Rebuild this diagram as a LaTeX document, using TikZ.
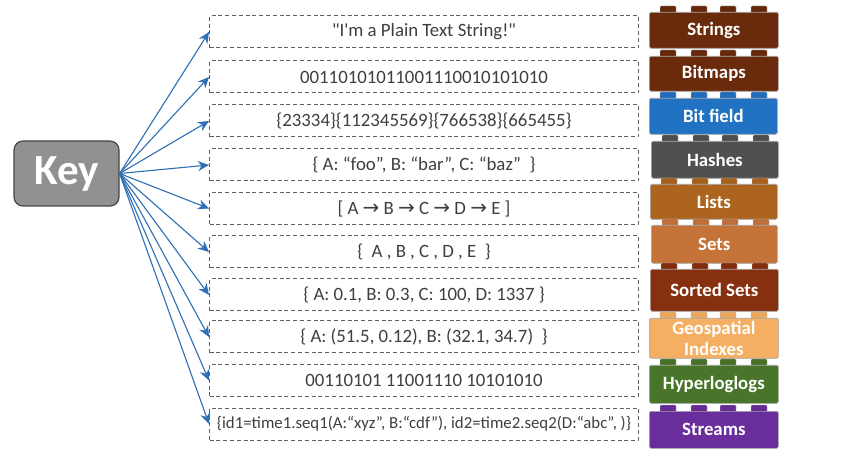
\documentclass[tikz,border=0pt]{standalone}
\usepackage{fontspec}
\setmainfont{Carlito}
\newfontfamily\plainfont{Carlito}
\newfontfamily\symfont{DejaVu Sans}
\usetikzlibrary{arrows.meta}
\definecolor{txtgray}{HTML}{3F3F3F}
\definecolor{arrowblue}{HTML}{2E6FB5}
\definecolor{cStrings}{HTML}{6A2A0C}
\definecolor{cBit}{HTML}{2272C3}
\definecolor{cHash}{HTML}{505050}
\definecolor{cList}{HTML}{AD641E}
\definecolor{cSets}{HTML}{C6733A}
\definecolor{cSorted}{HTML}{87300F}
\definecolor{cGeo}{HTML}{F4AF63}
\definecolor{cHyper}{HTML}{49752A}
\definecolor{cStream}{HTML}{6A2E9C}
\tikzset{
  databox/.style={draw=black!62,line width=1pt,dash pattern=on 4pt off 2.8pt,fill=white,minimum width=429pt,minimum height=32pt,inner sep=0pt,text=txtgray,font=\fontsize{18.8}{20}\selectfont,anchor=west},
  brick/.style={draw=black!35,line width=0.7pt,rounded corners=1.5pt,inner sep=0pt,text=white,align=center,font=\bfseries\fontsize{18.8}{22}\selectfont,anchor=north west},
  stud/.style={draw=black!30,line width=0.4pt,rounded corners=1pt},
  keybox/.style={draw=black!72,line width=1.2pt,fill=black!43,rounded corners=9pt,minimum width=105pt,minimum height=65pt,inner sep=0pt,text=white,font=\bfseries\fontsize{43}{45}\selectfont},
  link/.style={draw=arrowblue,line width=1.1pt,-{Stealth[length=11pt,width=10pt]}}
}
% #1 name #2 colour #3 left #4 top #5 width #6 height #7 text
\newcommand{\legobrick}[7]{%
  \foreach \sx in {11,42,71,102}{
    \fill[#2!96!black,stud] ({#3+\sx},{#4-6}) rectangle ({#3+\sx+16},{#4+1});
  }
  \node[brick,fill=#2,minimum width=#5pt,minimum height=#6pt] (#1) at (#3,#4) {#7};
}
\newcommand{\rarr}{{\symfont\fontsize{20}{22}\selectfont →}}
\newcommand{\low}[1]{\raisebox{-1pt}{#1}}
\begin{document}
\begin{tikzpicture}[x=1pt,y=-1pt]
\useasboundingbox (0,0) rectangle (855,457);
\fill[white] (0,0) rectangle (855,457);
\node[keybox] (key) at (66.5,173.5) {\raisebox{-2pt}{Key}};
\node[databox] (d1) at (209,32) {\plainfont "I'm a Plain Text String!"};
\node[databox] (d2) at (209,77) {00110101011001110010101010};
\node[databox] (d3) at (209,121) {\{23334\}\{112345569\}\{766538\}\{665455\}};
\node[databox] (d4) at (209,165) {\{ A: “foo”, B: “bar”, C: “baz”\ \ \}};
\node[databox] (d5) at (209,208.5) {[ A \rarr{} B \rarr{} C \rarr{} D \rarr{} E ]};
\node[databox] (d6) at (209,252) {\{\ \ A , B , C , D , E\ \ \}};
\node[databox] (d7) at (209,295) {\{ A: 0.1, B: 0.3, C: 100, D: 1337 \}};
\node[databox] (d8) at (209,337) {\{ A: (51.5, 0.12), B: (32.1, 34.7)\ \ \}};
\node[databox] (d9) at (209,380.5) {00110101 11001110 10101010};
\node[databox,font=\fontsize{16.8}{18}\selectfont] (d10) at (209,424) {\{id1=time1.seq1(A:“xyz”, B:“cdf”), id2=time2.seq2(D:“abc”, )\}};
\foreach \n in {1,...,10}{
  \draw[link] (key.east) -- (d\n.west);
}
\legobrick{b1}{cStrings}{649}{12}{129}{36}{\low{Strings}}
\legobrick{b2}{cStrings}{649}{56}{129}{35}{\low{Bitmaps}}
\legobrick{b3}{cBit}{649}{98}{128}{36}{\low{Bit field}}
\legobrick{b4}{cHash}{651}{141}{127}{37}{Hashes}
\legobrick{b5}{cList}{650}{184}{127}{35}{Lists}
\legobrick{b6}{cSets}{651}{225}{126}{38}{Sets}
\legobrick{b7}{cSorted}{650}{269}{128}{42}{Sorted Sets}
\legobrick{b8}{cGeo}{649}{318}{129}{40}{Geospatial\\[-0.5pt]Indexes}
\legobrick{b9}{cHyper}{649}{365}{129}{38}{\low{Hyperloglogs}}
\legobrick{b10}{cStream}{649}{411}{129}{37}{Streams}
\end{tikzpicture}
\end{document}
